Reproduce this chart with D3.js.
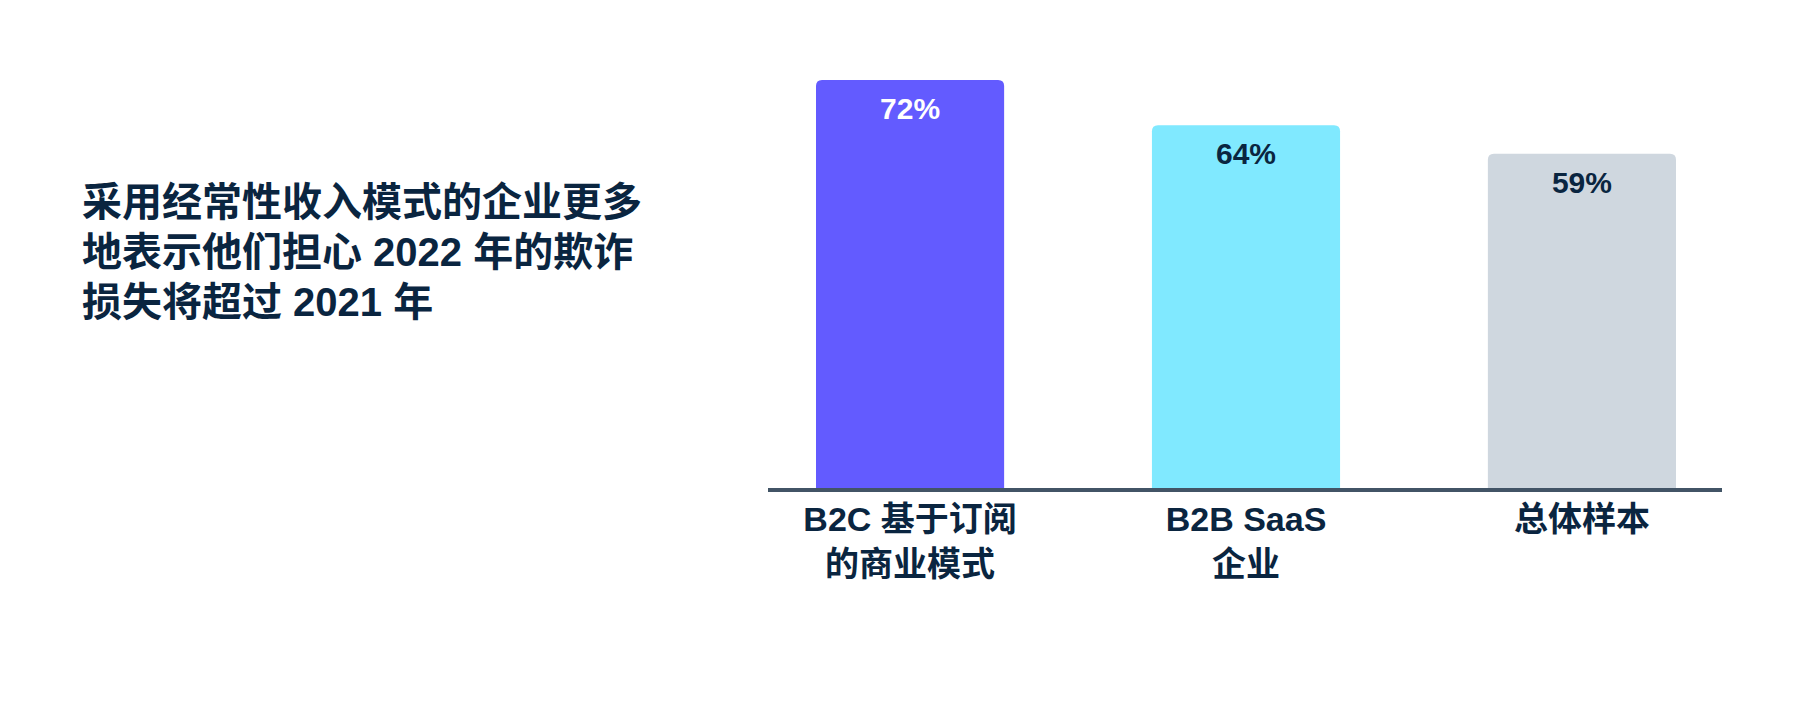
<!DOCTYPE html>
<html>
<head>
<meta charset="utf-8">
<script src="https://cdn.jsdelivr.net/npm/d3@7"></script>
<style>
  body { margin: 0; background: #fff; }
  svg text { font-family: "Liberation Sans", "Noto Sans CJK SC", sans-serif; font-weight: bold; }
</style>
</head>
<body>
<svg id="chart"></svg>
<script>
// chart data
var categories = ["B2C 基于订阅的商业模式", "B2B SaaS 企业", "总体样本"];
var categoryLines = [["B2C 基于订阅", "的商业模式"], ["B2B SaaS", "企业"], ["总体样本"]];
var values = [72, 64, 59];
var valueLabels = ["72%", "64%", "59%"];
var titleLines = ["采用经常性收入模式的企业更多", "地表示他们担心 2022 年的欺诈", "损失将超过 2021 年"];

var barColors = ["#635bff", "#80e9ff", "#cfd7df"];
var labelColors = ["#ffffff", "#0a2540", "#0a2540"];

var width = 1800,
    height = 714,
    baseline = 488;

var svg = d3.select("#chart")
  .attr("width", width)
  .attr("height", height);

var x = d3.scaleBand()
  .domain(categories)
  .range([816, 1676])
  .paddingInner(0.44)
  .paddingOuter(0);

var y = d3.scaleLinear()
  .domain([0, 72])
  .range([baseline, 80]);

// bar with rounded top corners only
function barPath(x0, y0, w, h, r) {
  return "M" + x0 + "," + (y0 + h) +
    "V" + (y0 + r) +
    "Q" + x0 + "," + y0 + " " + (x0 + r) + "," + y0 +
    "H" + (x0 + w - r) +
    "Q" + (x0 + w) + "," + y0 + " " + (x0 + w) + "," + (y0 + r) +
    "V" + (y0 + h) + "Z";
}

svg.selectAll(".bar")
  .data(values)
  .enter().append("path")
    .attr("class", "bar")
    .attr("d", function(d, i) {
      return barPath(x(categories[i]), y(d), x.bandwidth(), baseline - y(d), 6);
    })
    .style("fill", function(d, i) { return barColors[i]; });

// value labels inside the bars
svg.selectAll(".value")
  .data(values)
  .enter().append("text")
    .attr("class", "value")
    .attr("x", function(d, i) { return x(categories[i]) + x.bandwidth() / 2; })
    .attr("y", function(d) { return y(d) + 39; })
    .attr("text-anchor", "middle")
    .style("font-size", "30px")
    .style("fill", function(d, i) { return labelColors[i]; })
    .text(function(d, i) { return valueLabels[i]; });

// axis line
svg.append("line")
  .attr("x1", 768)
  .attr("x2", 1722)
  .attr("y1", baseline + 2)
  .attr("y2", baseline + 2)
  .style("stroke", "#425466")
  .style("stroke-width", 4);

// category labels, two lines max
var cat = svg.selectAll(".cat")
  .data(categories)
  .enter().append("text")
    .attr("class", "cat")
    .attr("text-anchor", "middle")
    .style("font-size", "34px")
    .style("fill", "#0a2540");

cat.selectAll("tspan")
  .data(function(d, i) { return categoryLines[i].map(function(t) { return { t: t, c: d }; }); })
  .enter().append("tspan")
    .attr("x", function(d) { return x(d.c) + x.bandwidth() / 2; })
    .attr("y", function(d, j) { return 531 + j * 45; })
    .text(function(d) { return d.t; });

// title block on the left
svg.selectAll(".title")
  .data(titleLines)
  .enter().append("text")
    .attr("class", "title")
    .attr("x", 82)
    .attr("y", function(d, i) { return 216 + i * 50; })
    .style("font-size", "40px")
    .style("fill", "#0a2540")
    .text(function(d) { return d; });
</script>
</body>
</html>
